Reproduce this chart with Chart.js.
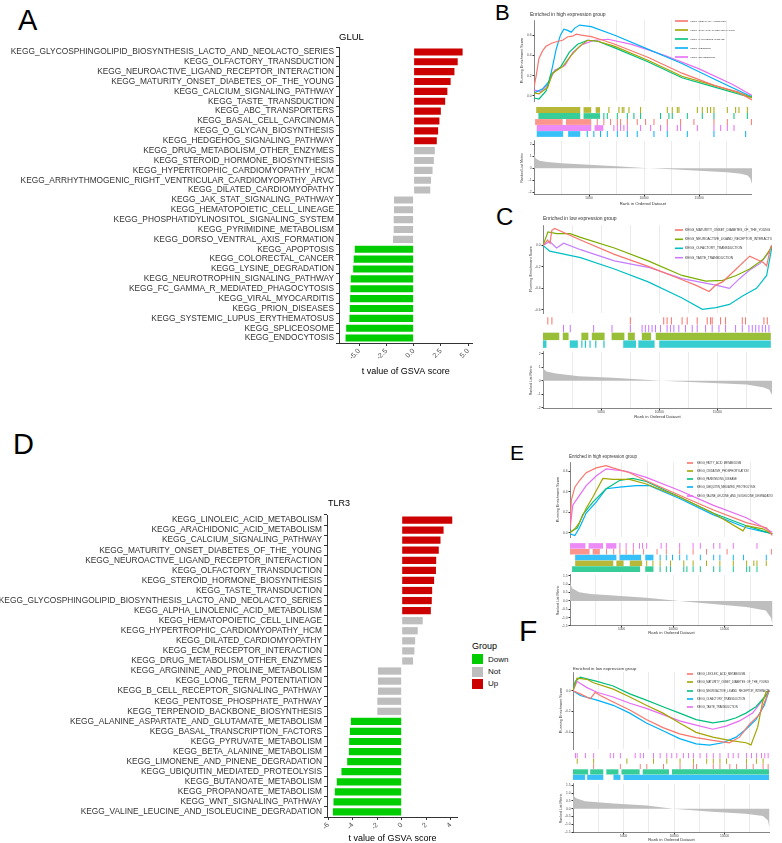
<!DOCTYPE html>
<html>
<head>
<meta charset="utf-8">
<script src="https://cdn.jsdelivr.net/npm/chart.js@4/dist/chart.umd.min.js"></script>
<style>
html, body { margin: 0; padding: 0; background: #fff; overflow: hidden; }
#page { position: relative; width: 782px; height: 843px; font-family: "Liberation Sans", Arial, sans-serif; }
#page canvas { position: absolute; }
.t { position: absolute; white-space: nowrap; line-height: 1; color: #000; }
.sw { position: absolute; width: 11px; height: 10px; }
</style>
</head>
<body>
<div id="page"></div>
<script>
// ---------- bar panels (t value of GSVA score) ----------
const A_terms = [
  'KEGG_GLYCOSPHINGOLIPID_BIOSYNTHESIS_LACTO_AND_NEOLACTO_SERIES', 'KEGG_OLFACTORY_TRANSDUCTION',
  'KEGG_NEUROACTIVE_LIGAND_RECEPTOR_INTERACTION', 'KEGG_MATURITY_ONSET_DIABETES_OF_THE_YOUNG',
  'KEGG_CALCIUM_SIGNALING_PATHWAY', 'KEGG_TASTE_TRANSDUCTION', 'KEGG_ABC_TRANSPORTERS',
  'KEGG_BASAL_CELL_CARCINOMA', 'KEGG_O_GLYCAN_BIOSYNTHESIS', 'KEGG_HEDGEHOG_SIGNALING_PATHWAY',
  'KEGG_DRUG_METABOLISM_OTHER_ENZYMES', 'KEGG_STEROID_HORMONE_BIOSYNTHESIS',
  'KEGG_HYPERTROPHIC_CARDIOMYOPATHY_HCM', 'KEGG_ARRHYTHMOGENIC_RIGHT_VENTRICULAR_CARDIOMYOPATHY_ARVC',
  'KEGG_DILATED_CARDIOMYOPATHY', 'KEGG_JAK_STAT_SIGNALING_PATHWAY', 'KEGG_HEMATOPOIETIC_CELL_LINEAGE',
  'KEGG_PHOSPHATIDYLINOSITOL_SIGNALING_SYSTEM', 'KEGG_PYRIMIDINE_METABOLISM',
  'KEGG_DORSO_VENTRAL_AXIS_FORMATION', 'KEGG_APOPTOSIS', 'KEGG_COLORECTAL_CANCER',
  'KEGG_LYSINE_DEGRADATION', 'KEGG_NEUROTROPHIN_SIGNALING_PATHWAY',
  'KEGG_FC_GAMMA_R_MEDIATED_PHAGOCYTOSIS', 'KEGG_VIRAL_MYOCARDITIS', 'KEGG_PRION_DISEASES',
  'KEGG_SYSTEMIC_LUPUS_ERYTHEMATOSUS', 'KEGG_SPLICEOSOME', 'KEGG_ENDOCYTOSIS'
];
const A_t = [4.5, 4.05, 3.75, 3.4, 3.1, 2.9, 2.5, 2.37, 2.25, 2.13,
  1.95, 1.86, 1.74, 1.6, 1.53, -1.8, -1.8, -1.83, -1.83, -1.89,
  -5.4, -5.5, -5.55, -5.77, -5.8, -5.83, -5.86, -5.89, -6.19, -6.25];
const A_group = ['Up', 'Up', 'Up', 'Up', 'Up', 'Up', 'Up', 'Up', 'Up', 'Up',
  'Not', 'Not', 'Not', 'Not', 'Not', 'Not', 'Not', 'Not', 'Not', 'Not',
  'Down', 'Down', 'Down', 'Down', 'Down', 'Down', 'Down', 'Down', 'Down', 'Down'];
const A_xTicks = [-5, -2.5, 0, 2.5, 5];

const D_terms = [
  'KEGG_LINOLEIC_ACID_METABOLISM', 'KEGG_ARACHIDONIC_ACID_METABOLISM', 'KEGG_CALCIUM_SIGNALING_PATHWAY',
  'KEGG_MATURITY_ONSET_DIABETES_OF_THE_YOUNG', 'KEGG_NEUROACTIVE_LIGAND_RECEPTOR_INTERACTION',
  'KEGG_OLFACTORY_TRANSDUCTION', 'KEGG_STEROID_HORMONE_BIOSYNTHESIS', 'KEGG_TASTE_TRANSDUCTION',
  'KEGG_GLYCOSPHINGOLIPID_BIOSYNTHESIS_LACTO_AND_NEOLACTO_SERIES', 'KEGG_ALPHA_LINOLENIC_ACID_METABOLISM',
  'KEGG_HEMATOPOIETIC_CELL_LINEAGE', 'KEGG_HYPERTROPHIC_CARDIOMYOPATHY_HCM', 'KEGG_DILATED_CARDIOMYOPATHY',
  'KEGG_ECM_RECEPTOR_INTERACTION', 'KEGG_DRUG_METABOLISM_OTHER_ENZYMES',
  'KEGG_ARGININE_AND_PROLINE_METABOLISM', 'KEGG_LONG_TERM_POTENTIATION',
  'KEGG_B_CELL_RECEPTOR_SIGNALING_PATHWAY', 'KEGG_PENTOSE_PHOSPHATE_PATHWAY',
  'KEGG_TERPENOID_BACKBONE_BIOSYNTHESIS', 'KEGG_ALANINE_ASPARTATE_AND_GLUTAMATE_METABOLISM',
  'KEGG_BASAL_TRANSCRIPTION_FACTORS', 'KEGG_PYRUVATE_METABOLISM', 'KEGG_BETA_ALANINE_METABOLISM',
  'KEGG_LIMONENE_AND_PINENE_DEGRADATION', 'KEGG_UBIQUITIN_MEDIATED_PROTEOLYSIS',
  'KEGG_BUTANOATE_METABOLISM', 'KEGG_PROPANOATE_METABOLISM', 'KEGG_WNT_SIGNALING_PATHWAY',
  'KEGG_VALINE_LEUCINE_AND_ISOLEUCINE_DEGRADATION'
];
const D_t = [4.13, 3.42, 3.17, 3.03, 2.82, 2.8, 2.65, 2.49, 2.46, 2.38,
  1.72, 1.31, 1.1, 1.04, 0.93, -1.94, -1.94, -1.94, -1.99, -1.99,
  -4.15, -4.23, -4.29, -4.31, -4.45, -4.92, -5.3, -5.46, -5.57, -5.62];
const D_group = A_group;
const D_xTicks = [-6, -4, -2, 0, 2, 4];

const groupNames = ['Down', 'Not', 'Up'];
const groupColor = { Down: '#00CD00', Not: '#BEBEBE', Up: '#CD0000' };

// ---------- GSEA panels: running ES [rank, score], hits (ranks), dense hit runs [from, to] ----------
const gridRanks = [2500, 5000, 7500, 10000, 12500, 15000, 17500];

// B: enriched in high expression group (GLUL)
const B_leish_es = [[0, 0.085], [200, 0.2], [450, 0.37], [800, 0.45], [1100, 0.49], [1600, 0.52], [2160, 0.54],
  [2600, 0.55], [3070, 0.585], [3500, 0.59], [3840, 0.61], [4300, 0.6], [5200, 0.585], [6000, 0.56],
  [7340, 0.51], [10390, 0.38], [13440, 0.225], [16490, 0.1], [18500, 0.04], [19800, -0.04]];
const B_oxphos_es = [[0, 0.03], [450, 0.02], [1250, 0.085], [1680, 0.225], [2600, 0.29], [3380, 0.4], [4140, 0.49],
  [4870, 0.55], [5800, 0.54], [7340, 0.49], [10390, 0.35], [13440, 0.195], [16490, 0.1], [18900, 0.02], [19800, -0.02]];
const B_park_es = [[0, -0.02], [450, -0.03], [1100, 0.05], [1520, 0.21], [2000, 0.25], [2440, 0.29], [3200, 0.43],
  [3960, 0.51], [4870, 0.55], [5800, 0.54], [7340, 0.475], [10390, 0.335], [13440, 0.18], [16490, 0.085],
  [19500, -0.01], [19800, 0]];
const B_ribo_es = [[0, 0.03], [790, 0.07], [1400, 0.15], [1700, 0.3], [2010, 0.46], [2400, 0.6], [2710, 0.66],
  [3000, 0.65], [3380, 0.63], [3700, 0.67], [4140, 0.7], [5200, 0.685], [7340, 0.6], [10390, 0.46],
  [13440, 0.32], [16490, 0.16], [19800, -0.01]];
const B_splice_es = [[0, 0.06], [600, 0.04], [1250, 0.115], [1880, 0.255], [2800, 0.3], [3530, 0.43], [4400, 0.51],
  [5500, 0.55], [6730, 0.56], [8860, 0.51], [11900, 0.4], [14950, 0.27], [18000, 0.115], [19800, 0.005]];
const B_leish_dense = [[100, 2600], [2900, 5200]];
const B_leish_hits = [5700, 6300, 6910, 7520, 7820, 8430, 9330, 10090, 10850, 12060, 13270, 14480, 16300, 17510, 19700];
const B_oxphos_dense = [[200, 4200], [4500, 5200], [5600, 6000]];
const B_oxphos_hits = [6760, 7670, 7970, 8120, 8580, 9640, 12060, 12510, 12970, 13120, 14790, 15240, 15700,
  16000, 16300, 17510, 18270, 18570, 19330];
const B_park_dense = [[400, 4200], [4500, 6000]];
const B_park_hits = [6300, 6610, 7520, 8430, 9030, 9640, 11450, 12210, 12510, 13880, 15240, 16300, 18120, 19330];
const B_ribo_dense = [[250, 2650], [3100, 4200]];
const B_ribo_hits = [4790, 5390, 6000, 6610, 7520, 8430, 9330, 10850, 12060, 13880, 16300, 19180];
const B_splice_dense = [[250, 5200], [5500, 6300]];
const B_splice_hits = [7210, 7520, 7820, 8120, 8430, 9640, 10550, 11450, 12060, 12970, 13270, 14790, 16300,
  16910, 17510, 18120];
const B_metricRank = [0, 150, 500, 1200, 2500, 5000, 7500, 10000, 12500, 15000, 17500, 18800, 19400, 19650, 19800];
const B_metricVal = [1.2, 0.8, 0.62, 0.52, 0.42, 0.3, 0.17, 0.03, -0.08, -0.2, -0.33, -0.45, -0.6, -0.85, -1.3];

// C: enriched in low expression group (GLUL)
const C_mody_es = [[0, 0], [400, 0.05], [600, 0.02], [760, 0.14], [1000, 0.157], [3230, 0.05], [6140, -0.084],
  [9050, -0.195], [11960, -0.32], [13130, -0.37], [14290, -0.43], [14870, -0.37], [15450, -0.34],
  [16620, -0.22], [17780, -0.1], [18950, -0.16], [19240, -0.19], [19600, -0.01], [19700, 0]];
const C_neuro_es = [[0, 0], [430, 0.126], [1170, 0.11], [2330, 0.11], [3230, 0.075], [6140, -0.024],
  [9050, -0.144], [11960, -0.28], [14000, -0.333], [15450, -0.325], [16620, -0.28], [17780, -0.22],
  [18950, -0.13], [19700, -0.01]];
const C_olf_es = [[0, 0], [580, -0.054], [3230, -0.114], [6140, -0.22], [9050, -0.34], [11960, -0.49],
  [13710, -0.595], [14870, -0.58], [16040, -0.55], [17200, -0.47], [18370, -0.4], [19240, -0.28], [19700, -0.01]];
const C_taste_es = [[0, 0], [580, 0.036], [1170, -0.024], [1775, 0.02], [3230, -0.04], [6140, -0.144],
  [9050, -0.204], [11960, -0.31], [14870, -0.37], [16040, -0.4], [16900, -0.31], [17780, -0.23],
  [18660, -0.17], [19400, -0.07], [19700, 0]];
const C_mody_dense = [];
const C_mody_hits = [370, 720, 7470, 10340, 10630, 11000, 11920, 12360, 13220, 14080, 14370, 14510, 15230,
  15660, 17100, 17380, 18960, 19250];
const C_taste_dense = [];
const C_taste_hits = [1720, 2300, 4310, 5890, 7470, 8480, 8760, 9050, 9340, 9630, 10060, 10630, 10920, 11210,
  11640, 12210, 12790, 13220, 13940, 14510, 15090, 15660, 16520, 17100, 17670, 17960, 18250, 18530, 18820,
  19100, 19390];
const C_neuro_dense = [[0, 1400], [1700, 2200], [3300, 3900], [4200, 5300], [5900, 7000], [7300, 7900],
  [8500, 9300], [9700, 19600]];
const C_neuro_hits = [];
const C_olf_dense = [[0, 300], [2300, 3000], [6900, 8000], [8200, 9600], [10000, 19600]];
const C_olf_hits = [3300, 3600, 4000, 4500, 5200];
const C_metricRank = [0, 100, 300, 1100, 3100, 6000, 10200, 14600, 17500, 18900, 19450, 19700];
const C_metricVal = [1.05, 0.85, 0.7, 0.54, 0.35, 0.22, 0, -0.16, -0.28, -0.47, -0.65, -1.05];

// E: enriched in high expression group (TLR3)
const E_fatty_es = [[0, 0.05], [130, 0.32], [470, 0.445], [920, 0.51], [1570, 0.586], [2540, 0.633],
  [3510, 0.655], [4160, 0.633], [5780, 0.586], [7400, 0.507], [10630, 0.366], [13870, 0.225],
  [17110, 0.1], [19050, 0.05], [19630, -0.025]];
const E_oxphos_es = [[0, 0], [470, 0.04], [920, 0.1], [1570, 0.24], [2220, 0.35], [3190, 0.53], [4160, 0.52],
  [5780, 0.52], [7400, 0.476], [10630, 0.35], [13870, 0.194], [16790, 0.02], [17110, 0.07], [18720, 0.04],
  [19630, -0.01]];
const E_park_es = [[0, 0.006], [720, 0.05], [1240, 0.178], [2220, 0.3], [3510, 0.43], [4810, 0.51],
  [6100, 0.53], [7400, 0.5], [10630, 0.35], [13870, 0.194], [17110, 0.07], [19630, -0.01]];
const E_ubiq_es = [[0, -0.01], [470, -0.025], [920, 0.05], [1570, 0.194], [2540, 0.3], [3510, 0.43],
  [4810, 0.445], [6420, 0.46], [7720, 0.46], [10630, 0.335], [13870, 0.178], [17110, 0.05],
  [19050, 0.006], [19630, -0.01]];
const E_valine_es = [[0, 0.04], [270, 0.27], [920, 0.366], [1570, 0.46], [2540, 0.554], [3510, 0.623],
  [5460, 0.6], [7400, 0.54], [10630, 0.413], [13870, 0.27], [17110, 0.147], [19630, 0.006]];
const E_valine_dense = [[0, 1500], [1800, 3200], [3500, 4500]];
const E_valine_hits = [4800, 5400, 6100, 6700, 7000, 7400, 8800, 9300, 10600, 11900, 12600, 13900, 14500,
  15800, 18100];
const E_fatty_dense = [[0, 1900], [2200, 2900]];
const E_fatty_hits = [3500, 4200, 4800, 5400, 6100, 7100, 8400, 9300, 10600, 11900, 13200, 15200, 19500];
const E_ubiq_dense = [[500, 4500], [4800, 6900], [7300, 8100]];
const E_ubiq_hits = [8700, 9300, 9900, 10600, 11300, 12600, 13900, 14500, 15800, 16800, 19000];
const E_oxphos_dense = [[500, 4200], [4500, 5200], [5800, 7000]];
const E_oxphos_hits = [7400, 8000, 8700, 9700, 11000, 11900, 13200, 14500, 15800, 17100, 17800, 18100, 19000];
const E_park_dense = [[200, 6800], [7300, 8100]];
const E_park_hits = [8700, 9300, 9700, 11000, 11300, 11900, 12600, 13900, 14500, 15800, 17100, 17400, 18100];
const E_metricRank = [0, 60, 200, 900, 2000, 4200, 7400, 10600, 13900, 17100, 19000, 19500, 19650];
const E_metricVal = [1.3, 1.0, 0.75, 0.52, 0.42, 0.33, 0.19, 0, -0.19, -0.37, -0.58, -1.0, -1.4];

// F: enriched in low expression group (TLR3)
const F_linoleic_es = [[0, 0], [720, -0.03], [1710, -0.077], [2200, -0.015], [2700, -0.046], [3980, -0.108],
  [5620, -0.185], [7260, -0.277], [8910, -0.354], [10550, -0.415], [12190, -0.45], [13840, -0.477],
  [15480, -0.5], [16480, -0.446], [17450, -0.323], [18440, -0.23], [19100, -0.077], [19400, 0]];
const F_mody_es = [[0, 0], [400, 0.12], [1380, 0.11], [2030, 0.077], [3980, 0.015], [5620, -0.06],
  [7260, -0.14], [8910, -0.215], [10550, -0.31], [12190, -0.4], [13840, -0.446], [15480, -0.477],
  [17120, -0.5], [17620, -0.52], [18280, -0.35], [18770, -0.108], [19100, -0.015], [19400, 0]];
const F_neuro_es = [[0, 0.015], [230, 0.09], [720, 0.13], [2370, 0.09], [3980, 0.046], [5620, -0.03],
  [7260, -0.09], [8910, -0.154], [10550, -0.215], [12190, -0.277], [13840, -0.308], [15150, -0.29],
  [16150, -0.26], [17120, -0.215], [18110, -0.154], [19100, -0.046], [19400, 0]];
const F_olf_es = [[0, 0], [720, -0.046], [2370, -0.09], [3980, -0.14], [5620, -0.215], [7260, -0.31],
  [8910, -0.385], [10550, -0.46], [12190, -0.51], [13510, -0.523], [14820, -0.5], [16150, -0.446],
  [17120, -0.37], [18110, -0.277], [18940, -0.14], [19400, 0]];
const F_taste_es = [[0, 0], [400, 0.09], [1380, 0.03], [2370, -0.015], [3980, -0.06], [5620, -0.12],
  [7260, -0.17], [8910, -0.23], [10550, -0.29], [12190, -0.33], [13840, -0.37], [15150, -0.34],
  [16480, -0.29], [17780, -0.215], [18770, -0.09], [19400, 0]];
const F_taste_dense = [];
const F_taste_hits = [200, 370, 1180, 2000, 3640, 3980, 4640, 6110, 6610, 6940, 7920, 8580, 9240, 9730,
  10230, 10880, 11380, 11870, 12530, 13190, 13840, 14500, 15320, 15810, 16310, 17120, 17620, 18110,
  18610, 18940, 19270];
const F_mody_dense = [];
const F_mody_hits = [370, 2000, 5290, 7920, 9240, 10550, 11870, 13190, 13840, 14500, 15150, 17120, 18110, 18770];
const F_linoleic_dense = [];
const F_linoleic_hits = [2000, 4640, 6610, 7260, 8910, 10550, 11870, 12190, 13840, 14500, 15480, 16150,
  17120, 17790, 18770, 19270];
const F_neuro_dense = [[0, 1500], [1700, 3000], [3300, 4500], [4800, 6600], [6900, 9500], [9800, 19400]];
const F_neuro_hits = [];
const F_olf_dense = [[0, 1200], [1400, 3000], [4000, 4700], [5000, 19400]];
const F_olf_hits = [];
const F_metricRank = [0, 100, 300, 1200, 4000, 7300, 9900, 13800, 17100, 18800, 19300, 19450];
const F_metricVal = [0.95, 0.8, 0.67, 0.48, 0.34, 0.2, 0, -0.2, -0.32, -0.46, -0.75, -1.3];

const hue5 = ['#F8766D', '#A3A500', '#00BF7D', '#00B0F6', '#E76BF3'];
const hue4 = ['#F8766D', '#7CAE00', '#00BFC4', '#C77CFF'];

// ---------- helpers ----------
Chart.defaults.font.family = '"Liberation Sans", Arial, sans-serif';
Chart.defaults.animation = false;
Chart.defaults.responsive = false;
Chart.defaults.plugins.legend.display = false;
Chart.defaults.plugins.tooltip.enabled = false;

const page = document.getElementById('page');

function addCanvas(left, top, w, h) {
  const c = document.createElement('canvas');
  c.width = w;
  c.height = h;
  c.style.left = left + 'px';
  c.style.top = top + 'px';
  c.style.width = w + 'px';
  c.style.height = h + 'px';
  page.appendChild(c);
  return c;
}

function addText(txt, left, top, size, extra) {
  const d = document.createElement('div');
  d.className = 't';
  d.textContent = txt;
  d.style.left = left + 'px';
  d.style.top = top + 'px';
  d.style.fontSize = size + 'px';
  if (extra) Object.assign(d.style, extra);
  page.appendChild(d);
}

const pts = pairs => pairs.map(p => ({ x: p[0], y: p[1] }));

function barPanel(o, terms, values, groups, xTicks, fmt) {
  const c = addCanvas(0, o.top, o.width, o.height);
  new Chart(c, {
    type: 'bar',
    data: {
      labels: terms,
      datasets: [{
        data: values,
        backgroundColor: groups.map(g => groupColor[g]),
        barPercentage: 0.72,
        categoryPercentage: 1
      }]
    },
    options: {
      indexAxis: 'y',
      layout: { padding: { top: o.padTop, right: 0, bottom: 0, left: 0 } },
      scales: {
        x: {
          type: 'linear', min: o.xMin, max: o.xMax,
          afterBuildTicks: s => { s.ticks = xTicks.map(v => ({ value: v })); },
          afterFit: s => { s.height = o.axisH; },
          ticks: { callback: v => fmt(v), minRotation: 45, maxRotation: 45, font: { size: 7 }, color: '#4D4D4D', padding: 1 },
          grid: { drawOnChartArea: false, tickLength: 3, color: '#333' },
          border: { color: '#333' },
          title: { display: true, text: 't value of GSVA score', font: { size: 9 }, color: '#000',
            padding: { top: 0, bottom: o.titlePad } }
        },
        y: {
          afterFit: s => { s.width = o.axisW; },
          ticks: { autoSkip: false, font: { size: 8.35 }, color: '#333', padding: 2 },
          grid: { drawOnChartArea: false, tickLength: 3, color: '#333' },
          border: { color: '#333' }
        }
      }
    }
  });
}

const YW = 14;

function gseaPanel(P) {
  const w = P.plotR - P.plotL + YW;
  // running enrichment score
  const topC = Math.floor(P.titleY - 4);
  const c1 = addCanvas(P.plotL - YW, topC, w, P.topB - topC);
  const deco = {
    id: 'deco',
    afterDraw(chart) {
      const ctx = chart.ctx;
      const ox = P.plotL - YW, oy = topC;
      ctx.save();
      ctx.textBaseline = 'middle';
      ctx.fillStyle = '#333';
      ctx.font = P.titleSize + 'px "Liberation Sans", Arial, sans-serif';
      ctx.fillText(P.title, P.titleX - ox, P.titleY - oy);
      ctx.font = P.legSize + 'px "Liberation Sans", Arial, sans-serif';
      P.sets.forEach((s, i) => {
        const y = P.legY[i] - oy;
        ctx.strokeStyle = s.color;
        ctx.lineWidth = 1.6;
        ctx.beginPath();
        ctx.moveTo(P.legX[0] - ox, y);
        ctx.lineTo(P.legX[1] - ox, y);
        ctx.stroke();
        ctx.fillStyle = '#333';
        ctx.fillText(s.name, P.legX[2] - ox, y);
      });
      ctx.restore();
    }
  };
  new Chart(c1, {
    type: 'line',
    data: {
      datasets: P.sets.map(s => ({
        data: pts(s.es), borderColor: s.color, borderWidth: 1.2, pointRadius: 0, tension: 0, fill: false
      }))
    },
    options: {
      layout: { padding: { top: P.topT - topC, left: 0, right: 0, bottom: 0 } },
      scales: {
        x: {
          type: 'linear', min: 0, max: P.xMax,
          afterBuildTicks: s => { s.ticks = gridRanks.map(v => ({ value: v })); },
          afterFit: s => { s.height = 0; },
          ticks: { display: false },
          grid: { color: '#EBEBEB', drawTicks: false },
          border: { display: false }
        },
        y: {
          min: P.topMin, max: P.topMax,
          afterBuildTicks: s => { s.ticks = P.topTicks.map(v => ({ value: v })); },
          afterFit: s => { s.width = YW; },
          ticks: { callback: v => v.toFixed(1), font: { size: 3.3 }, color: '#4D4D4D', padding: 1 },
          grid: { drawOnChartArea: false, tickLength: 1.5, color: '#333' },
          border: { color: '#333', width: 0.6 },
          title: { display: true, text: 'Running Enrichment Score', font: { size: 3.8 }, color: '#333', padding: 0 }
        }
      }
    },
    plugins: [deco]
  });

  // hit rug: dense runs slightly translucent, single hits solid
  const c2 = addCanvas(P.plotL, P.rugT, P.plotR - P.plotL, P.rugB - P.rugT);
  const rugSets = [];
  P.rug.forEach(s => {
    rugSets.push({
      data: s.dense.map(iv => ({ x: iv, y: s.name })),
      backgroundColor: s.color + 'C8', grouped: false, barPercentage: 1, categoryPercentage: 0.96
    });
    rugSets.push({
      data: s.hits.map(h => ({ x: [h, h + 90], y: s.name })),
      backgroundColor: s.color, grouped: false, barPercentage: 1, categoryPercentage: 0.96
    });
  });
  new Chart(c2, {
    type: 'bar',
    data: { labels: P.rug.map(s => s.name), datasets: rugSets },
    options: {
      indexAxis: 'y',
      layout: { padding: 0 },
      scales: {
        x: { type: 'linear', min: 0, max: P.xMax, display: false },
        y: { display: false }
      }
    }
  });

  // ranked list metric
  const c3 = addCanvas(P.plotL - YW, P.metT, w, P.metB - P.metT + P.axisH);
  new Chart(c3, {
    type: 'line',
    data: {
      datasets: [{
        data: P.metRank.map((r, i) => ({ x: r, y: P.metVal[i] })),
        fill: 'origin', backgroundColor: '#BEBEBE', borderColor: 'rgba(0,0,0,0)', borderWidth: 0,
        pointRadius: 0, tension: 0
      }]
    },
    options: {
      layout: { padding: 0 },
      scales: {
        x: {
          type: 'linear', min: 0, max: P.xMax,
          afterBuildTicks: s => { s.ticks = gridRanks.map(v => ({ value: v })); },
          afterFit: s => { s.height = P.axisH; },
          ticks: { callback: v => (v % 5000 === 0 ? String(v) : ''), font: { size: 3.3 }, color: '#4D4D4D',
            padding: 0, maxRotation: 0, autoSkip: false },
          grid: { color: '#EBEBEB', tickLength: 1.5,
            tickColor: ctx => (ctx.tick && ctx.tick.value % 5000 === 0 ? '#333' : 'rgba(0,0,0,0)') },
          border: { color: '#333', width: 0.6 },
          title: { display: true, text: 'Rank in Ordered Dataset', font: { size: 4.2 }, color: '#333',
            padding: { top: 0, bottom: P.xTitlePad } }
        },
        y: {
          min: P.metMin, max: P.metMax,
          afterBuildTicks: s => { s.ticks = P.metTicks.map(v => ({ value: v })); },
          afterFit: s => { s.width = YW; },
          ticks: { callback: v => P.metFmt(v), font: { size: 3.3 }, color: '#4D4D4D', padding: 1 },
          grid: { drawOnChartArea: false, tickLength: 1.5, color: '#333' },
          border: { color: '#333', width: 0.6 },
          title: { display: true, text: 'Ranked List Metric', font: { size: 3.6 }, color: '#333', padding: 0 }
        }
      }
    }
  });
}

// ---------- draw ----------
barPanel({ top: 40, width: 475, height: 343, padTop: 6, axisW: 339, axisH: 40, titlePad: 5.6, xMin: -6.85, xMax: 5.4 },
  A_terms, A_t, A_group, A_xTicks, v => v.toFixed(1));
barPanel({ top: 495, width: 458, height: 352, padTop: 20, axisW: 327, axisH: 30, titlePad: 2.6, xMin: -6.1, xMax: 4.6 },
  D_terms, D_t, D_group, D_xTicks, v => String(v));

const intFmt = v => String(v);
const oneFmt = v => v.toFixed(1);

gseaPanel({
  plotL: 534, plotR: 752, xMax: 19800,
  title: 'Enriched in high expression group', titleX: 530, titleY: 15, titleSize: 5,
  topT: 20, topB: 104, topMin: -0.05, topMax: 0.75, topTicks: [0, 0.2, 0.4, 0.6],
  legX: [675, 688, 690.5], legY: [21, 30, 39, 48, 57], legSize: 2.3,
  sets: [
    { name: 'KEGG_LEISHMANIA_INFECTION', color: hue5[0], es: B_leish_es },
    { name: 'KEGG_OXIDATIVE_PHOSPHORYLATION', color: hue5[1], es: B_oxphos_es },
    { name: 'KEGG_PARKINSONS_DISEASE', color: hue5[2], es: B_park_es },
    { name: 'KEGG_RIBOSOME', color: hue5[3], es: B_ribo_es },
    { name: 'KEGG_SPLICEOSOME', color: hue5[4], es: B_splice_es }
  ],
  rugT: 107, rugB: 137,
  rug: [
    { name: 'oxphos', color: hue5[1], dense: B_oxphos_dense, hits: B_oxphos_hits },
    { name: 'park', color: hue5[2], dense: B_park_dense, hits: B_park_hits },
    { name: 'leish', color: hue5[0], dense: B_leish_dense, hits: B_leish_hits },
    { name: 'splice', color: hue5[4], dense: B_splice_dense, hits: B_splice_hits },
    { name: 'ribo', color: hue5[3], dense: B_ribo_dense, hits: B_ribo_hits }
  ],
  metT: 138, metB: 195, axisH: 12, xTitlePad: 0.5, metMin: -2.2, metMax: 2.25, metTicks: [-2, -1, 0, 1, 2], metFmt: intFmt,
  metRank: B_metricRank, metVal: B_metricVal
});

gseaPanel({
  plotL: 543, plotR: 772, xMax: 19700,
  title: 'Enriched in low expression group', titleX: 543, titleY: 219, titleSize: 5,
  topT: 225, topB: 316, topMin: -0.63, topMax: 0.19, topTicks: [0, -0.2, -0.4, -0.6],
  legX: [675, 683, 685], legY: [230, 239.3, 248.3, 257.7], legSize: 3.2,
  sets: [
    { name: 'KEGG_MATURITY_ONSET_DIABETES_OF_THE_YOUNG', color: hue4[0], es: C_mody_es },
    { name: 'KEGG_NEUROACTIVE_LIGAND_RECEPTOR_INTERACTION', color: hue4[1], es: C_neuro_es },
    { name: 'KEGG_OLFACTORY_TRANSDUCTION', color: hue4[2], es: C_olf_es },
    { name: 'KEGG_TASTE_TRANSDUCTION', color: hue4[3], es: C_taste_es }
  ],
  rugT: 317, rugB: 348,
  rug: [
    { name: 'mody', color: hue4[0], dense: C_mody_dense, hits: C_mody_hits },
    { name: 'taste', color: hue4[3], dense: C_taste_dense, hits: C_taste_hits },
    { name: 'neuro', color: hue4[1], dense: C_neuro_dense, hits: C_neuro_hits },
    { name: 'olf', color: hue4[2], dense: C_olf_dense, hits: C_olf_hits }
  ],
  metT: 349, metB: 409, axisH: 11, xTitlePad: 0.5, metMin: -2.1, metMax: 2.15, metTicks: [-2, -1, 0, 1, 2], metFmt: intFmt,
  metRank: C_metricRank, metVal: C_metricVal
});

gseaPanel({
  plotL: 570, plotR: 773, xMax: 19700,
  title: 'Enriched in high expression group', titleX: 569, titleY: 457, titleSize: 4.5,
  topT: 462, topB: 540, topMin: -0.04, topMax: 0.69, topTicks: [0, 0.2, 0.4, 0.6],
  legX: [687, 693, 697], legY: [463, 471, 479, 487, 496], legSize: 2.7,
  sets: [
    { name: 'KEGG_FATTY_ACID_METABOLISM', color: hue5[0], es: E_fatty_es },
    { name: 'KEGG_OXIDATIVE_PHOSPHORYLATION', color: hue5[1], es: E_oxphos_es },
    { name: 'KEGG_PARKINSONS_DISEASE', color: hue5[2], es: E_park_es },
    { name: 'KEGG_UBIQUITIN_MEDIATED_PROTEOLYSIS', color: hue5[3], es: E_ubiq_es },
    { name: 'KEGG_VALINE_LEUCINE_AND_ISOLEUCINE_DEGRADATION', color: hue5[4], es: E_valine_es }
  ],
  rugT: 543, rugB: 572,
  rug: [
    { name: 'valine', color: hue5[4], dense: E_valine_dense, hits: E_valine_hits },
    { name: 'fatty', color: hue5[0], dense: E_fatty_dense, hits: E_fatty_hits },
    { name: 'ubiq', color: hue5[3], dense: E_ubiq_dense, hits: E_ubiq_hits },
    { name: 'oxphos', color: hue5[1], dense: E_oxphos_dense, hits: E_oxphos_hits },
    { name: 'park', color: hue5[2], dense: E_park_dense, hits: E_park_hits }
  ],
  metT: 572, metB: 626, axisH: 9, xTitlePad: 0, metMin: -1.5, metMax: 1.55,
  metTicks: [-1.5, -1, -0.5, 0, 0.5, 1, 1.5], metFmt: oneFmt,
  metRank: E_metricRank, metVal: E_metricVal
});

gseaPanel({
  plotL: 573, plotR: 770, xMax: 19500,
  title: 'Enriched in low expression group', titleX: 573, titleY: 669, titleSize: 4.3,
  topT: 672, topB: 752, topMin: -0.56, topMax: 0.18, topTicks: [0, -0.2, -0.4],
  legX: [687, 693, 697], legY: [674, 682, 691, 699, 707], legSize: 2.7,
  sets: [
    { name: 'KEGG_LINOLEIC_ACID_METABOLISM', color: hue5[0], es: F_linoleic_es },
    { name: 'KEGG_MATURITY_ONSET_DIABETES_OF_THE_YOUNG', color: hue5[1], es: F_mody_es },
    { name: 'KEGG_NEUROACTIVE_LIGAND_RECEPTOR_INTERACTION', color: hue5[2], es: F_neuro_es },
    { name: 'KEGG_OLFACTORY_TRANSDUCTION', color: hue5[3], es: F_olf_es },
    { name: 'KEGG_TASTE_TRANSDUCTION', color: hue5[4], es: F_taste_es }
  ],
  rugT: 753, rugB: 780,
  rug: [
    { name: 'taste', color: hue5[4], dense: F_taste_dense, hits: F_taste_hits },
    { name: 'mody', color: hue5[1], dense: F_mody_dense, hits: F_mody_hits },
    { name: 'linoleic', color: hue5[0], dense: F_linoleic_dense, hits: F_linoleic_hits },
    { name: 'neuro', color: hue5[2], dense: F_neuro_dense, hits: F_neuro_hits },
    { name: 'olf', color: hue5[3], dense: F_olf_dense, hits: F_olf_hits }
  ],
  metT: 781, metB: 833, axisH: 9, xTitlePad: 0, metMin: -1.55, metMax: 1.58,
  metTicks: [-1.5, -1, -0.5, 0, 0.5, 1, 1.5], metFmt: oneFmt,
  metRank: F_metricRank, metVal: F_metricVal
});

// ---------- panel letters, titles, group legend ----------
addText('A', 18, 6, 29);
addText('B', 495, 2, 22);
addText('C', 496, 205, 24);
addText('D', 13, 430, 29);
addText('E', 510, 442, 21);
addText('F', 519, 616, 30);
addText('GLUL', 339, 31.5, 9.5);
addText('TLR3', 328, 498.5, 9);
addText('Group', 472, 641.5, 9);
groupNames.forEach((g, i) => {
  const sq = document.createElement('div');
  sq.className = 'sw';
  sq.style.left = '472px';
  sq.style.top = (654 + i * 12.5) + 'px';
  sq.style.background = groupColor[g];
  page.appendChild(sq);
  addText(g, 488, 656 + i * 12.2, 8, { color: '#111' });
});
</script>
</body>
</html>
